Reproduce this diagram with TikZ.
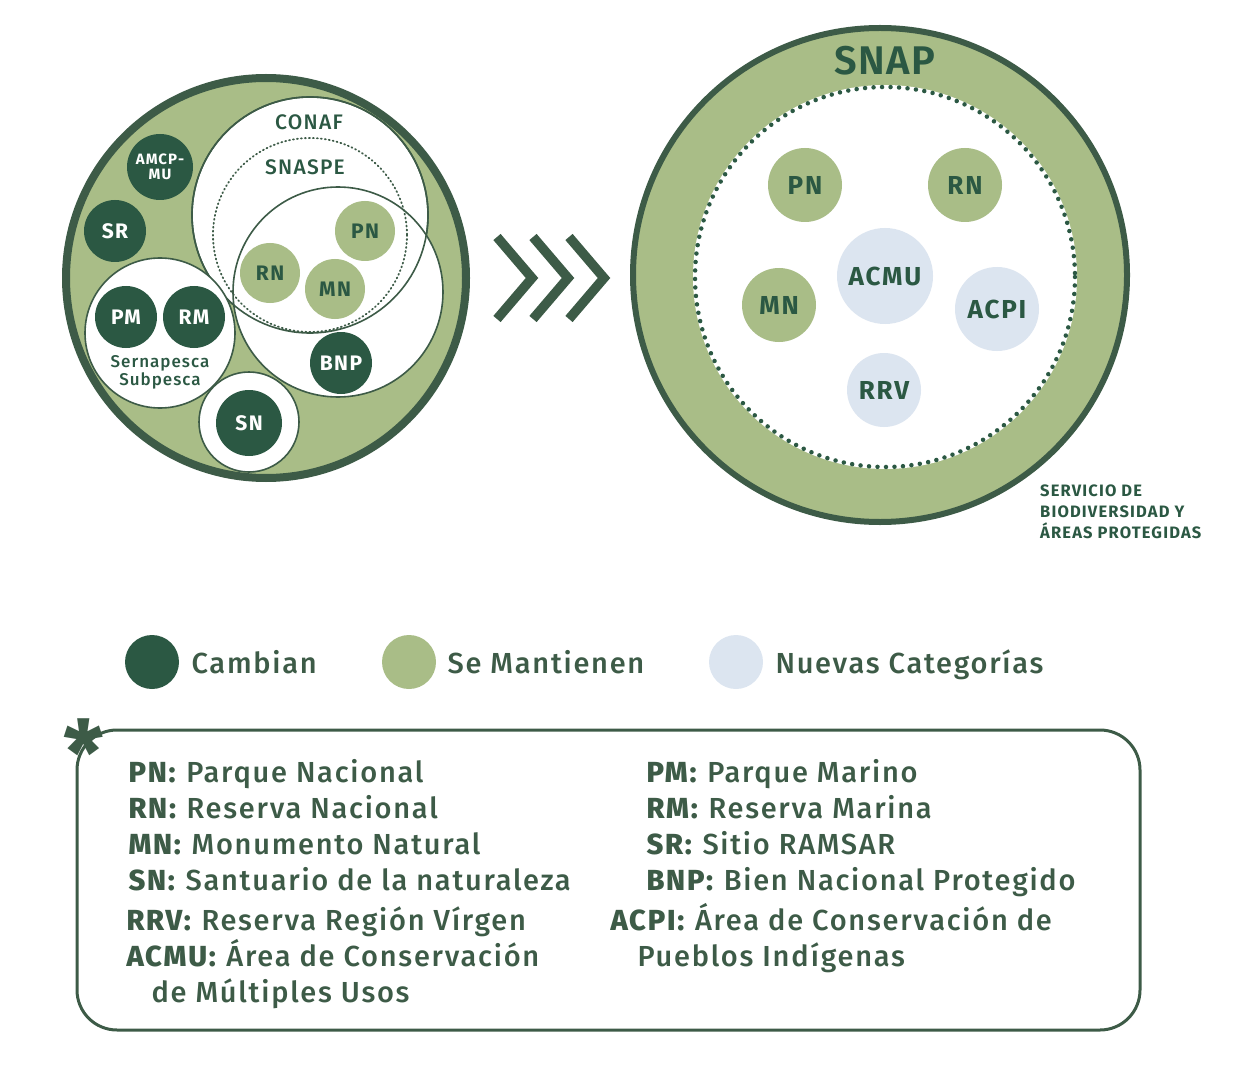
\documentclass[tikz,border=0pt]{standalone}
\usepackage{fontspec}
\setmainfont[LetterSpace=7]{Fira Sans}
\newfontfamily\fsb[LetterSpace=3]{Fira Sans SemiBold}
\newfontfamily\fsm[LetterSpace=6]{Fira Sans Medium}
\definecolor{dk}{HTML}{2B5843}
\definecolor{ring}{HTML}{3D5B47}
\definecolor{lg}{HTML}{A9BD87}
\definecolor{lb}{HTML}{DCE5F0}
\begin{document}
\begin{tikzpicture}[x=1pt,y=-1pt,
  dc/.style={circle,fill=dk,text=white,inner sep=0pt,font=\bfseries\fontsize{21}{21}\selectfont},
  gc/.style={circle,fill=lg,text=dk,inner sep=0pt,font=\bfseries\fontsize{21}{21}\selectfont},
  bc/.style={circle,fill=lb,text=dk,inner sep=0pt,font=\bfseries\fontsize{26}{26}\selectfont},
  wc/.style={circle,fill=white,draw=ring,line width=1.6pt,inner sep=0pt},
  leg/.style={anchor=west,text=ring,font=\fsm\fontsize{29}{29}\selectfont},
  def/.style={anchor=base west,text=ring,font=\fsm\fontsize{29}{29}\selectfont}]
\useasboundingbox (0,0) rectangle (1247,1075);
% left big circle
\node[circle,fill=lg,draw=ring,line width=8pt,minimum size=400pt,inner sep=0pt] (big) at (266,278) {};
\node[wc,minimum size=236pt] (conaf) at (310,215) {};
\node[wc,minimum size=210pt] (third) at (338,292) {};
\draw[ring,line width=1.6pt] (310,215) circle (118);
\draw[ring,line width=1.8pt,dash pattern=on 1pt off 3pt,line cap=round] (310,235) circle (97);
\node[wc,minimum size=150pt] (serna) at (160,333) {};
\node[wc,minimum size=100pt] (snw) at (249,422) {};
\node[text=dk,font=\fsm\fontsize{21}{21}\selectfont] (tconaf) at (309,122) {CONAF};
\node[text=dk,font=\fsm\fontsize{21}{21}\selectfont] (tsnaspe) at (305,167) {SNASPE};
\node[text=dk,align=center,font=\fsm\fontsize{17}{18}\selectfont] (tserna) at (160,372) {Sernapesca\\Subpesca};
\node[dc,minimum size=66pt,font=\bfseries\fontsize{15}{15}\selectfont,align=center] (amcp) at (160,167) {AMCP-\\MU};
\node[dc,minimum size=62pt] (sr) at (115,231) {SR};
\node[dc,minimum size=62pt] (pm) at (126,317) {PM};
\node[dc,minimum size=62pt] (rm) at (194,317) {RM};
\node[dc,minimum size=62pt] (bnp) at (341,363) {BNP};
\node[dc,minimum size=66pt] (sn) at (249,423) {SN};
\node[gc,minimum size=60pt] (pn1) at (365,231) {PN};
\node[gc,minimum size=60pt] (rn1) at (270,273) {RN};
\node[gc,minimum size=60pt] (mn1) at (335,289) {MN};
% chevrons
\foreach \i in {0,1,2}
  \draw[ring,line width=9.5pt,miter limit=10] (497+36*\i,237) -- (532+36*\i,278) -- (497+36*\i,319);
% right circle
\node[circle,fill=lg,draw=ring,line width=6pt,minimum size=494pt,inner sep=0pt] (snapc) at (880,275) {};
\node[circle,fill=white,inner sep=0pt,minimum size=384pt] (inner) at (885,277) {};
\draw[dk,line width=4.5pt,dash pattern=on 0pt off 8.5pt,line cap=round] (885,277) circle (190);
\node[text=dk,font=\fsb\fontsize{40}{40}\selectfont] (snap) at (885,61) {SNAP};
\node[gc,minimum size=74pt,font=\bfseries\fontsize{26}{26}\selectfont] (pn2) at (805,185) {PN};
\node[gc,minimum size=74pt,font=\bfseries\fontsize{26}{26}\selectfont] (rn2) at (965,185) {RN};
\node[gc,minimum size=74pt,font=\bfseries\fontsize{26}{26}\selectfont] (mn2) at (779,305) {MN};
\node[bc,minimum size=96pt] (acmu) at (885,276) {ACMU};
\node[bc,minimum size=84pt] (acpi) at (997,309) {ACPI};
\node[bc,minimum size=74pt] (rrv) at (884,390) {RRV};
\node[anchor=north west,text=dk,align=left,font=\bfseries\fontsize{16.5}{21}\selectfont,inner sep=0pt] (serv) at (1040,485) {SERVICIO DE\\BIODIVERSIDAD Y\\ÁREAS PROTEGIDAS};
% legend
\node[circle,fill=dk,minimum size=54pt,inner sep=0pt] (l1) at (152,662) {};
\node[circle,fill=lg,minimum size=54pt,inner sep=0pt] (l2) at (409,662) {};
\node[circle,fill=lb,minimum size=54pt,inner sep=0pt] (l3) at (736,662) {};
\node[leg,anchor=base west] (t1) at (188,673) {Cambian};
\node[leg,anchor=base west] (t2) at (444,673) {Se Mantienen};
\node[leg,anchor=base west] (t3) at (772,673) {Nuevas Categorías};
% box
\draw[ring,line width=3pt,rounded corners=40pt] (77,730) rectangle (1140,1030);
\node[text=ring,font=\bfseries\fontsize{90}{90}\selectfont,inner sep=0pt] (ast) at (84,752) {*};
\node[def] at (125,782) {\textbf{PN:} Parque Nacional};
\node[def] at (125,818) {\textbf{RN:} Reserva Nacional};
\node[def] at (125,854) {\textbf{MN:} Monumento Natural};
\node[def] at (125,890) {\textbf{SN:} Santuario de la naturaleza};
\node[def] at (123,930) {\textbf{RRV:} Reserva Región Vírgen};
\node[def] at (123,966) {\textbf{ACMU:} Área de Conservación};
\node[def] at (148,1002) {de Múltiples Usos};
\node[def] at (643,782) {\textbf{PM:} Parque Marino};
\node[def] at (643,818) {\textbf{RM:} Reserva Marina};
\node[def] at (643,854) {\textbf{SR:} Sitio RAMSAR};
\node[def] at (643,890) {\textbf{BNP:} Bien Nacional Protegido};
\node[def] at (607,930) {\textbf{ACPI:} Área de Conservación de};
\node[def] at (634,966) {Pueblos Indígenas};
\end{tikzpicture}
\end{document}
